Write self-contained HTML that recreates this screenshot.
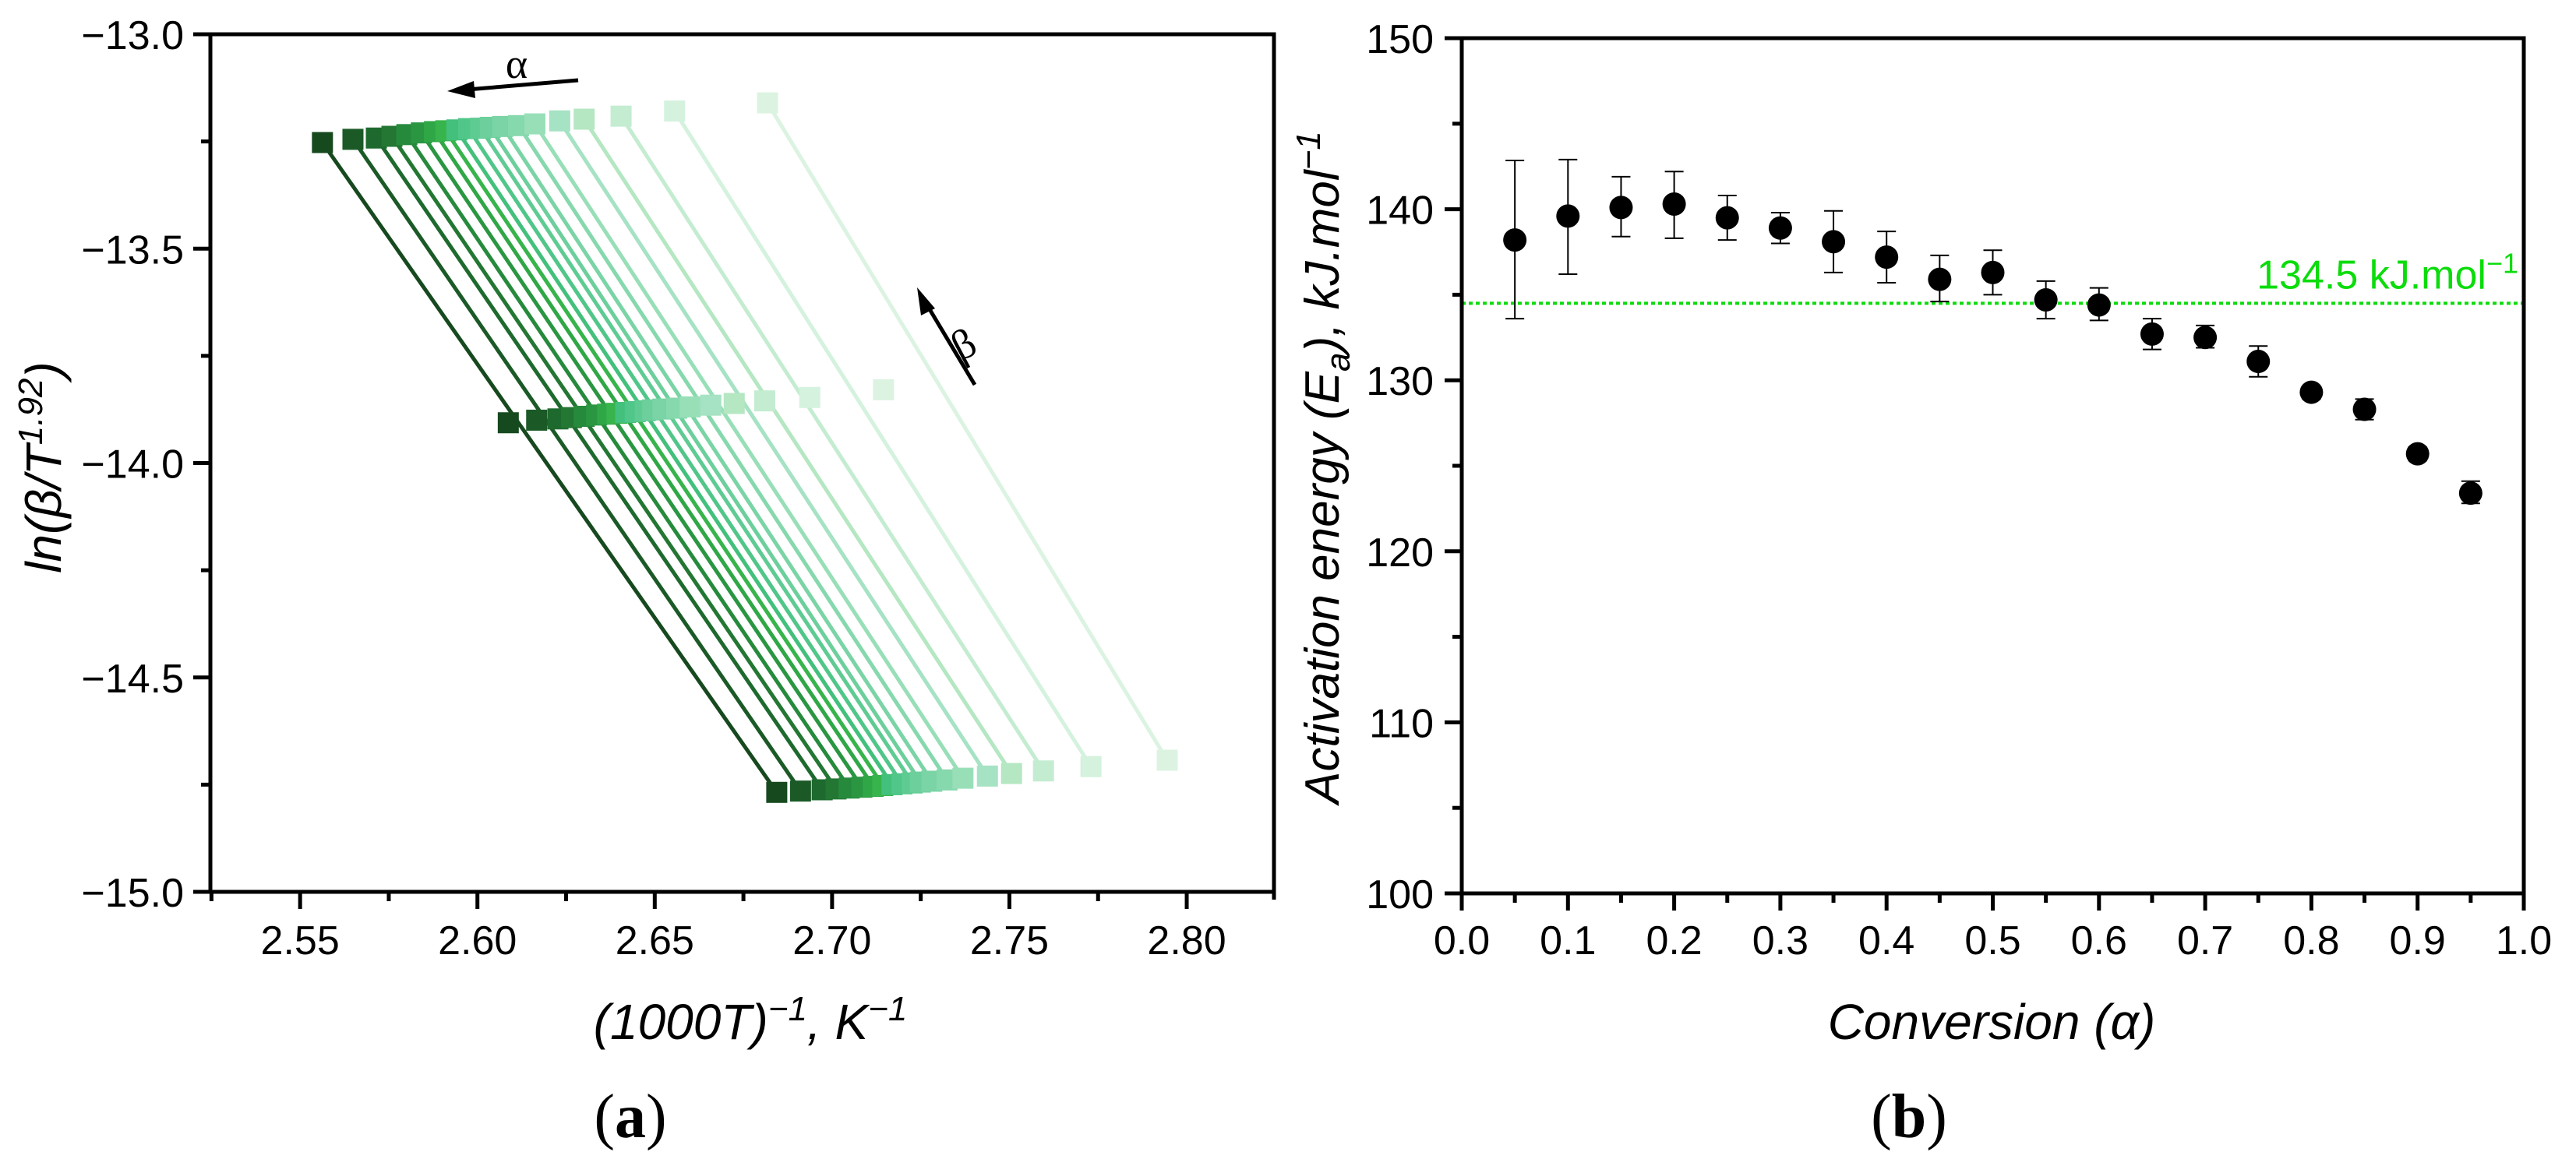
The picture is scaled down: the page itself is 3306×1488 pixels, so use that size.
<!DOCTYPE html>
<html><head><meta charset="utf-8"><style>
html,body{margin:0;padding:0;background:#fff;}
svg{display:block;font-family:"Liberation Sans",Arial,sans-serif;}
</style></head><body>
<svg id="fig" width="3306" height="1488" viewBox="0 0 3306 1488" xmlns="http://www.w3.org/2000/svg">
<g id="pa"></g>
<g id="pb"></g>
</svg>
<script>
// ---------- Panel (a) data ----------
const aXTicks = [2.55, 2.60, 2.65, 2.70, 2.75, 2.80];
const aXTickLabels = ["2.55", "2.60", "2.65", "2.70", "2.75", "2.80"];
const aYTicks = [-13.0, -13.5, -14.0, -14.5, -15.0];
const aYTickLabels = ["\u221213.0", "\u221213.5", "\u221214.0", "\u221214.5", "\u221215.0"];
const topX = [2.5563,2.5649,2.5715,2.5759,2.5801,2.5842,2.5879,2.5911,2.5942,2.5975,2.6009,2.6036,2.6071,2.6116,2.6162,2.6232,2.6301,2.6405,2.6556,2.6818];
const topY = [-13.2525,-13.245,-13.242,-13.238,-13.234,-13.230,-13.227,-13.225,-13.223,-13.220,-13.219,-13.217,-13.215,-13.213,-13.209,-13.202,-13.198,-13.191,-13.179,-13.160];
const midX = [2.6087,2.6167,2.6227,2.6265,2.6301,2.6336,2.6367,2.6393,2.6418,2.6445,2.6473,2.6494,2.6523,2.6562,2.6600,2.6658,2.6724,2.6810,2.6937,2.7145];
const midY = [-13.906,-13.900,-13.897,-13.894,-13.891,-13.888,-13.886,-13.884,-13.882,-13.880,-13.878,-13.876,-13.874,-13.872,-13.869,-13.865,-13.861,-13.855,-13.847,-13.829];
const botX = [2.6844,2.6911,2.6972,2.7011,2.7048,2.7084,2.7116,2.7143,2.7169,2.7197,2.7226,2.7249,2.7281,2.7324,2.7369,2.7438,2.7506,2.7596,2.7730,2.7945];
const botY = [-14.768,-14.765,-14.762,-14.760,-14.758,-14.756,-14.754,-14.752,-14.750,-14.748,-14.746,-14.744,-14.742,-14.739,-14.735,-14.730,-14.724,-14.718,-14.708,-14.693];
const seriesColors = ["#17491f","#1b5a27","#1e6a2e","#237733","#268a3c","#2a9642","#30a746","#38b44c","#42c07c","#50c689","#5ecb93","#6ccf9c","#7ad4a5","#86d8ad","#98dfb8","#a6e2c4","#b4e7c2","#c4ecd1","#d4f2de","#dcf3e2"];

// ---------- Panel (b) data ----------
const bConv = [0.05,0.10,0.15,0.20,0.25,0.30,0.35,0.40,0.45,0.50,0.55,0.60,0.65,0.70,0.75,0.80,0.85,0.90,0.95];
const bEa   = [138.2,139.6,140.1,140.3,139.5,138.9,138.1,137.2,135.9,136.3,134.7,134.4,132.7,132.5,131.1,129.3,128.3,125.7,123.4];
const bErrLo= [133.6,136.2,138.4,138.3,138.2,138.0,136.3,135.7,134.6,135.0,133.6,133.5,131.8,131.9,130.2,128.9,127.7,125.3,122.8];
const bErrHi= [142.85,142.9,141.9,142.2,140.8,139.8,139.9,138.7,137.3,137.6,135.8,135.4,133.6,133.2,132.0,129.6,128.9,126.1,124.1];
const bMean = [134.5];
const bXTicks = [0,0.1,0.2,0.3,0.4,0.5,0.6,0.7,0.8,0.9,1.0];
const bXTickLabels = ["0.0","0.1","0.2","0.3","0.4","0.5","0.6","0.7","0.8","0.9","1.0"];
const bYTicks = [100,110,120,130,140,150];
const bYTickLabels = ["100","110","120","130","140","150"];

const NS = "http://www.w3.org/2000/svg";
function mk(parent, tag, attrs, text){
  const e = document.createElementNS(NS, tag);
  for (const k in attrs) e.setAttribute(k, attrs[k]);
  if (text !== undefined) e.textContent = text;
  parent.appendChild(e);
  return e;
}

// ---------- Panel (a) ----------
const pa = document.getElementById('pa');
const aL=270, aR=1635, aT=44, aB=1145;
const aXmin=2.5247, aXmax=2.8246, aYmin=-15, aYmax=-13;
const ax = v => aL + (v-aXmin)/(aXmax-aXmin)*(aR-aL);
const ay = v => aB - (v-aYmin)/(aYmax-aYmin)*(aB-aT);

const aSeries = mk(pa,'g',{});


for (let i=0;i<topX.length;i++){
  const ln = mk(aSeries,'line',{x1:ax(topX[i]),y1:ay(topY[i]),x2:ax(botX[i]),y2:ay(botY[i]),stroke:seriesColors[i],'stroke-width':5});
  
  
}
const aMarks = mk(pa,'g',{});


for (let i=0;i<topX.length;i++){
  [[topX[i],topY[i]],[midX[i],midY[i]],[botX[i],botY[i]]].forEach(p=>{
    const r = mk(aMarks,'rect',{x:ax(p[0])-13.5,y:ay(p[1])-13.5,width:27,height:27,fill:seriesColors[i]});
    
    
  });
}
const aFrame = mk(pa,'path',{d:`M${aL-22} ${aT} H${aR} V${aB+10} M${aR} ${aB} H${aL} V${aT}`,fill:'none',stroke:'#000','stroke-width':5});


aXTicks.forEach((t,i)=>{
  const x=ax(t);
  const tk=mk(pa,'line',{x1:x,y1:aB,x2:x,y2:aB+22,stroke:'#000','stroke-width':5});
  
  
  const mx=ax(t+0.025);
  if (t+0.025<aXmax){
    const mt=mk(pa,'line',{x1:mx,y1:aB,x2:mx,y2:aB+12,stroke:'#000','stroke-width':5});
    
    
  }
  const lb=mk(pa,'text',{x:x,y:1225,'font-size':52,'text-anchor':'middle'},aXTickLabels[i]);
  
  
});
{ const mt=mk(pa,'line',{x1:ax(2.525),y1:aB,x2:ax(2.525),y2:aB+12,stroke:'#000','stroke-width':5});
  
   }
aYTicks.forEach((t,i)=>{
  const y=ay(t);
  const tk=mk(pa,'line',{x1:aL-22,y1:y,x2:aL,y2:y,stroke:'#000','stroke-width':5});
  
  
  if (t>aYmin){
    const my=ay(t-0.25);
    const mt=mk(pa,'line',{x1:aL-12,y1:my,x2:aL,y2:my,stroke:'#000','stroke-width':5});
    
    
  }
  const lb=mk(pa,'text',{x:aL-34,y:y+19,'font-size':52,'text-anchor':'end'},aYTickLabels[i]);
  
  
});
</script>
<script>
(function(){
const pa=document.getElementById('pa');
pa.insertAdjacentHTML('beforeend',
 '<text transform="translate(78,600) rotate(-90)" font-size="64" font-style="italic" text-anchor="middle">ln(β/T<tspan font-size="44" dy="-24">1.92</tspan><tspan dy="24">)</tspan></text>'+
 '<text x="963" y="1334" font-size="64" font-style="italic" text-anchor="middle">(1000T)<tspan font-size="44" dy="-24">−1</tspan><tspan dy="24">, K</tspan><tspan font-size="44" dy="-24">−1</tspan></text>'+
 '<text x="809" y="1460" font-size="80" font-family="Liberation Serif, serif" text-anchor="middle">(<tspan font-weight="bold">a</tspan>)</text>'+
 '<g><line x1="742" y1="103" x2="600" y2="115" stroke="#000" stroke-width="5"/><polygon points="574,117 608,104 610,126" fill="#000"/></g>'+
 '<text x="663" y="100" font-size="54" font-family="Liberation Serif, serif" text-anchor="middle">α</text>'+
 '<g><line x1="1251" y1="494" x2="1190" y2="392" stroke="#000" stroke-width="5"/><polygon points="1177,369 1200,396 1182,405" fill="#000"/></g>'+
 '<text transform="translate(1245,458) rotate(-28)" font-size="54" font-family="Liberation Serif, serif" text-anchor="middle">β</text>'
);
})();
</script>
<script>
(function(){
const pb=document.getElementById('pb');
const bL=1876, bR=3239, bT=49, bB=1147;
const bx = v => bL + v*(bR-bL);
const by = v => bB - (v-100)/50*(bB-bT);
function el(tag,attrs,name,text){const e=mk(pb,tag,attrs,text);return e;}
const mline = mk(pb,'line',{x1:bL,y1:by(bMean[0]),x2:bR,y2:by(bMean[0]),stroke:'#0bdc0b','stroke-width':4,'stroke-dasharray':'5 4'});


const mlab = mk(pb,'text',{x:bR-7,y:by(bMean[0])-19,'font-size':52,fill:'#0bdc0b','text-anchor':'end'});


mlab.innerHTML = bMean[0].toFixed(1)+' kJ.mol<tspan font-size="36" dy="-20">−1</tspan>';
for (let i=0;i<bConv.length;i++){
  const x=bx(bConv[i]);
  const g=mk(pb,'g',{});
  
  
  mk(g,'line',{x1:x,y1:by(bErrLo[i]),x2:x,y2:by(bErrHi[i]),stroke:'#000','stroke-width':2});
  mk(g,'line',{x1:x-12,y1:by(bErrLo[i]),x2:x+12,y2:by(bErrLo[i]),stroke:'#000','stroke-width':2});
  mk(g,'line',{x1:x-12,y1:by(bErrHi[i]),x2:x+12,y2:by(bErrHi[i]),stroke:'#000','stroke-width':2});
  const c=mk(pb,'circle',{cx:x,cy:by(bEa[i]),r:15,fill:'#000'});
  
  
}
el('rect',{x:bL,y:bT,width:bR-bL,height:bB-bT,fill:'none',stroke:'#000','stroke-width':5},'axes-frame-b');
bXTicks.forEach((t,i)=>{
  const x=bx(t);
  el('line',{x1:x,y1:bB,x2:x,y2:bB+22,stroke:'#000','stroke-width':5},'x-tick');
  if (t<1) el('line',{x1:bx(t+0.05),y1:bB,x2:bx(t+0.05),y2:bB+12,stroke:'#000','stroke-width':5},'x-minor-tick');
  el('text',{x:x,y:1225,'font-size':52,'text-anchor':'middle'},'x-tick-label',bXTickLabels[i]);
});
bYTicks.forEach((t,i)=>{
  const y=by(t);
  el('line',{x1:bL-22,y1:y,x2:bL,y2:y,stroke:'#000','stroke-width':5},'y-tick');
  if (t<150) el('line',{x1:bL-12,y1:by(t+5),x2:bL,y2:by(t+5),stroke:'#000','stroke-width':5},'y-minor-tick');
  el('text',{x:bL-36,y:y+19,'font-size':52,'text-anchor':'end'},'y-tick-label',bYTickLabels[i]);
});
pb.insertAdjacentHTML('beforeend',
 '<text transform="translate(1718,600) rotate(-90)" font-size="62" font-style="italic" text-anchor="middle">Activation energy (E<tspan font-size="44" dy="14">a</tspan><tspan dy="-14">),  kJ.mol</tspan><tspan font-size="44" dy="-24">−1</tspan></text>'+
 '<text x="2556" y="1334" font-size="64" font-style="italic" text-anchor="middle">Conversion (α)</text>'+
 '<text x="2450" y="1460" font-size="80" font-family="Liberation Serif, serif" text-anchor="middle">(<tspan font-weight="bold">b</tspan>)</text>'
);
})();
</script>
</body></html>
